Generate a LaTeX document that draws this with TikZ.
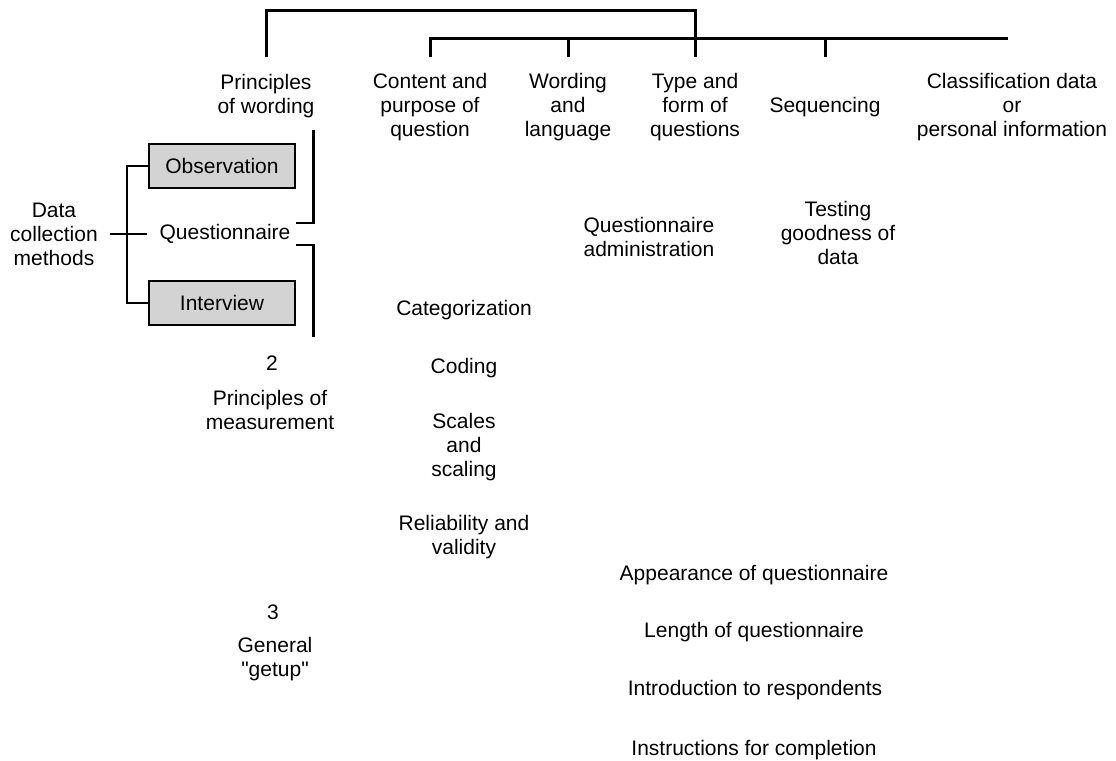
\documentclass[tikz,border=0pt]{standalone}
\usepackage{fontspec}
\setmainfont{Liberation Sans}[Ligatures=TeXOff]
\definecolor{boxfill}{RGB}{211,211,211}
\begin{document}
\begin{tikzpicture}[x=0.5pt,y=-0.5pt,
  lbl/.style={align=center,font=\fontsize{10.5}{12}\selectfont,inner sep=0pt},
  methodbox/.style={lbl,draw,line width=0.75pt,fill=boxfill,
    minimum width=73pt,minimum height=22pt},
  tree/.style={line width=1.5pt},
  fork/.style={line width=1.2pt},
  bracket/.style={line width=1.4pt}]
\useasboundingbox (0,0) rectangle (1116,761);

% rows used by the hierarchy lines at the top
\coordinate (toprow) at (0,10);
\coordinate (midrow) at (0,38);
\coordinate (tickrow) at (0,57);
\coordinate (barend) at (1008,38);

% headings along the top
\node[lbl] (wording)  at (266,96)  {Principles\\of wording};
\node[lbl] (content)  at (430,107) {Content and\\purpose of\\question};
\node[lbl] (wordlang) at (568,107) {Wording\\and\\language};
\node[lbl] (typeform) at (695,107) {Type and\\form of\\questions};
\node[lbl] (seq)      at (825,107) {Sequencing};
\node[lbl] (classif)  at (1012,107) {Classification data\\or\\personal information};

% data collection methods
\node[lbl] (dcm)   at (54,234)  {Data\\collection\\methods};
\node[methodbox] (obs) at (222,166) {Observation};
\node[lbl] (quest) at (225,234) {Questionnaire};
\node[methodbox] (int) at (222,303) {Interview};

% further topics
\node[lbl] (qadmin)  at (649,237) {Questionnaire\\administration};
\node[lbl] (testing) at (838,233) {Testing\\goodness of\\data};
\node[lbl] (categ)   at (464,310) {Categorization};
\node[lbl] (two)     at (272,363) {2};
\node[lbl] (coding)  at (464,368) {Coding};
\node[lbl] (pmeas)   at (270,410) {Principles of\\measurement};
\node[lbl] (scales)  at (464,447) {Scales\\and\\scaling};
\node[lbl] (reliab)  at (464,537) {Reliability and\\validity};
\node[lbl] (appear)  at (754,575) {Appearance of questionnaire};
\node[lbl] (three)   at (273,612) {3};
\node[lbl] (general) at (275,659) {General\\"getup"};
\node[lbl] (length)  at (754,632) {Length of questionnaire};
\node[lbl] (intro)   at (755,690) {Introduction to respondents};
\node[lbl] (instr)   at (754,750) {Instructions for completion};

% hierarchy lines at the top
\draw[tree] (wording.north |- tickrow) -- (wording.north |- toprow)
  -- (typeform.north |- toprow) -- (typeform.north |- tickrow);
\draw[tree] (content.north |- tickrow) -- (content.north |- midrow) -- (barend);
\draw[tree] (wordlang.north |- midrow) -- (wordlang.north |- tickrow);
\draw[tree] (seq.north |- midrow) -- (seq.north |- tickrow);

% fork from the methods to the three kinds
\draw[fork] (obs.west) -- ++(-21,0) |- (int.west);
\draw[fork] ([xshift=6pt]dcm.east) -- ([xshift=-6pt]quest.west);

% brackets beside the questionnaire
\draw[bracket] ([shift={(5,-11)}]quest.east) -- ++(18,0) -- ++(0,-93);
\draw[bracket] ([shift={(5,11)}]quest.east) -- ++(18,0) -- ++(0,92);
\end{tikzpicture}
\end{document}
